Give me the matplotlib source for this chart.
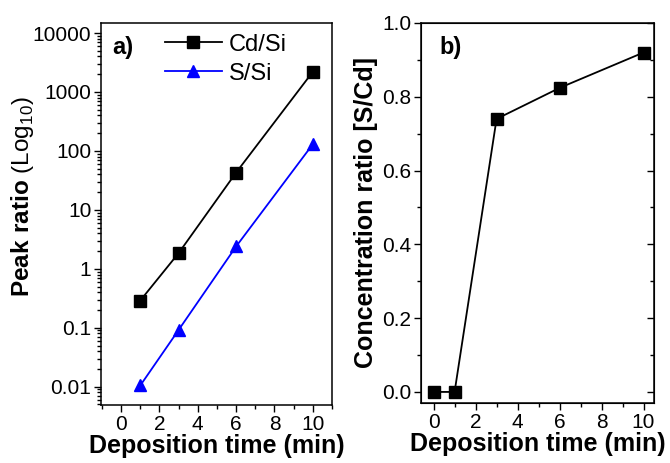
import matplotlib.pyplot as plt
from matplotlib.ticker import AutoMinorLocator, LogLocator, NullFormatter

plt.rcParams['font.family'] = ['Liberation Sans', 'DejaVu Sans']
plt.rcParams['mathtext.fontset'] = 'custom'
plt.rcParams['mathtext.rm'] = 'Liberation Sans'
plt.rcParams['mathtext.bf'] = 'Liberation Sans:bold'

# panel a data
time_a = [1, 3, 6, 10]
cd_si = [0.29, 1.85, 43, 2200]
s_si = [0.0105, 0.092, 2.4, 130]

# panel b data
time_b = [0, 1, 3, 6, 10]
s_cd = [0.0, 0.0, 0.74, 0.824, 0.92]

fig = plt.figure(figsize=(6.7, 4.63), dpi=100)
ax1 = fig.add_axes([101/670, 1 - 405/463, 231/670, 382/463])
ax2 = fig.add_axes([421/670, 1 - 403/463, 233/670, 380/463])

# --- a) log plot
ax1.plot(time_a, cd_si, 'k-', marker='s', ms=8, lw=1.3, label='Cd/Si')
ax1.plot(time_a, s_si, '-', color='#0000ff', marker='^', ms=9, lw=1.3, label='S/Si')
ax1.set_yscale('log')
ax1.set_xlim(-1.05, 11)
ax1.set_ylim(10**-2.31, 10**4.17)
ax1.set_xticks([0, 2, 4, 6, 8, 10])
ax1.xaxis.set_minor_locator(AutoMinorLocator(2))
ax1.set_yticks([0.01, 0.1, 1, 10, 100, 1000, 10000])
ax1.set_yticklabels(['0.01', '0.1', '1', '10', '100', '1000', '10000'])
ax1.yaxis.set_minor_locator(LogLocator(base=10, subs=range(2, 10), numticks=20))
ax1.yaxis.set_minor_formatter(NullFormatter())
ax1.set_xlabel('Deposition time (min)', fontsize=18, fontweight='bold', labelpad=0)
ax1.set_ylabel(r'$\mathbf{Peak\ ratio}$ (Log$_{10}$)', fontsize=17.5)
ax1.yaxis.set_label_coords(-0.28, 0.545)
ax1.text(0.05, 0.965, 'a)', transform=ax1.transAxes, fontsize=17, fontweight='bold', va='top')
ax1.legend(loc='upper right', frameon=False, fontsize=17, handlelength=2.4,
           handletextpad=0.3, labelspacing=0.3, borderaxespad=0.0,
           bbox_to_anchor=(0.845, 0.997))

# --- b) linear plot
ax2.plot(time_b, s_cd, 'k-', marker='s', ms=8, lw=1.3)
ax2.set_xlim(-0.6, 10.5)
ax2.set_ylim(-0.03, 1.0)
ax2.set_xticks([0, 2, 4, 6, 8, 10])
ax2.xaxis.set_minor_locator(AutoMinorLocator(2))
ax2.set_yticks([0.0, 0.2, 0.4, 0.6, 0.8, 1.0])
ax2.yaxis.set_minor_locator(AutoMinorLocator(2))
ax2.set_xlabel('Deposition time (min)', fontsize=18, fontweight='bold', labelpad=0)
ax2.set_ylabel('Concentration ratio [S/Cd]', fontsize=18, fontweight='bold', labelpad=3)
ax2.text(0.08, 0.965, 'b)', transform=ax2.transAxes, fontsize=17, fontweight='bold', va='top')

# right-side inward ticks for panel b
axr = ax2.twinx()
axr.set_ylim(ax2.get_ylim())
axr.set_yticks([0.0, 0.2, 0.4, 0.6, 0.8, 1.0])
axr.yaxis.set_minor_locator(AutoMinorLocator(2))
axr.set_yticklabels([])
axr.tick_params(axis='y', which='major', direction='in', length=5, width=1)
axr.tick_params(axis='y', which='minor', direction='in', length=3, width=1)

for ax in (ax1, ax2):
    ax.tick_params(axis='both', which='major', direction='out', length=5, width=1, labelsize=15, pad=2)
    ax.tick_params(axis='both', which='minor', direction='out', length=3, width=1)
    for s in ax.spines.values():
        s.set_linewidth(1.1)

fig.savefig('out.png', dpi=100)
